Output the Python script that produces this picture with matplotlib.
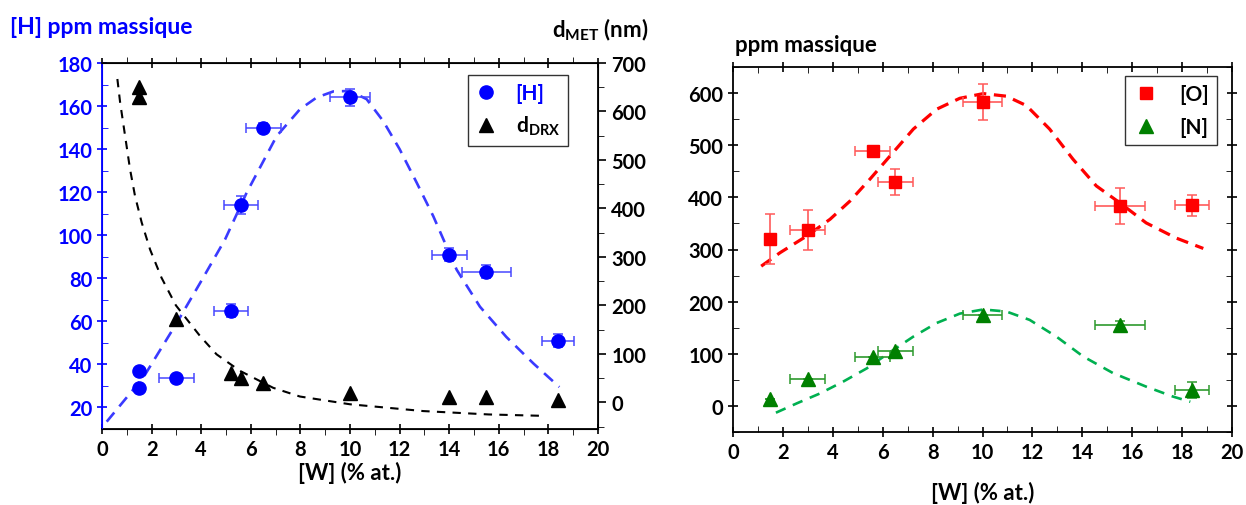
import matplotlib
matplotlib.use("Agg")
import matplotlib.pyplot as plt
from matplotlib.lines import Line2D
from matplotlib.ticker import MultipleLocator

plt.rcParams['font.family'] = ['Lato', 'DejaVu Sans']
plt.rcParams['font.weight'] = 'bold'
plt.rcParams['mathtext.fontset'] = 'custom'
plt.rcParams['mathtext.rm'] = 'Lato:bold'
plt.rcParams['mathtext.bf'] = 'Lato:bold'

# --- left chart data: [H] (left axis) and d_DRX (right axis) vs [W]
w_h = [1.5, 1.5, 3.0, 5.2, 5.6, 6.5, 10.0, 14.0, 15.5, 18.4]
h_ppm = [37, 29, 33.5, 65, 114, 150, 164, 91, 83, 51]
h_xerr = [0, 0, 0.7, 0.7, 0.7, 0.7, 0.8, 0.7, 1.0, 0.65]
h_yerr = [0, 0, 1, 3, 4, 2, 4, 3, 3, 3]

w_d = [1.5, 1.5, 3.0, 5.2, 5.6, 6.5, 10.0, 14.0, 15.5, 18.4]
d_drx = [650, 630, 172, 60, 50, 39, 19, 10, 10, 5]

# fitted curves
fit_h_x = [0.19, 1.68, 3.0, 3.95, 4.96, 5.83, 7.04, 7.98, 8.66, 9.33, 10.0, 10.67,
           11.34, 12.0, 12.69, 13.36, 14.3, 15.24, 16.3, 17.4, 18.44]
fit_h_y = [13.4, 34.2, 59, 77.7, 98, 119.7, 146, 158.5, 164, 166.8, 167, 163.2,
           153, 140, 124.4, 108.8, 84, 66.8, 52.8, 40.4, 29.5]
fit_d_x = [0.62, 0.73, 0.93, 1.13, 1.33, 1.6, 1.94, 2.4, 2.98, 3.95, 4.62, 5.56,
           6.9, 7.98, 10.0, 12.95, 15.6, 17.9]
fit_d_y = [667, 619, 550, 481, 426, 371, 315, 257, 200, 137, 99, 65,
           30, 12, -4, -18, -25, -28]

# --- right chart data: [O] and [N] vs [W]
w_on = [1.5, 3.0, 5.6, 6.5, 10.0, 15.5, 18.4]
o_ppm = [321, 338, 489, 429, 583, 383, 385]
o_xerr = [0, 0.7, 0.7, 0.7, 0.8, 1.0, 0.67]
o_yerr = [48, 38, 5, 25, 35, 35, 20]
n_ppm = [13, 51, 94, 106, 175, 155, 30]
n_xerr = [0, 0.7, 0.7, 0.7, 0.8, 1.0, 0.67]
n_yerr = [0, 0, 0, 0, 0, 8, 15]

fit_o_x = [1.13, 1.89, 2.96, 3.89, 4.69, 5.49, 6.36, 7.23, 8.16, 9.09, 10.03,
           10.96, 11.76, 12.69, 13.63, 14.56, 15.49, 16.56, 17.76, 18.85]
fit_o_y = [268, 294, 326, 358, 393, 435, 483, 531, 569, 590, 599,
           594, 576, 531, 473, 422, 390, 351, 322, 302]
fit_n_x = [1.72, 2.56, 3.49, 4.43, 5.36, 6.29, 7.23, 8.16, 9.09, 10.03,
           10.96, 11.89, 12.96, 14.03, 15.23, 16.56, 17.63, 18.33]
fit_n_y = [-13, 5, 24, 47, 72, 103, 133, 159, 177, 185,
           181, 165, 133, 95, 63, 37, 18, 8]

fs = 14.5
fig = plt.figure(figsize=(12.46, 5.06), dpi=100)

# ================= left chart
ax1 = fig.add_axes([102 / 1246, 1 - 430 / 506, 496 / 1246, 366 / 506])
ax2 = ax1.twinx()

ax1.plot(fit_h_x, fit_h_y, color='#3a3aff', lw=1.9, dashes=(4.5, 3), zorder=2)
ax2.plot(fit_d_x, fit_d_y, color='black', lw=1.5, dashes=(4, 3.5), zorder=2)
ax1.errorbar(w_h, h_ppm, xerr=h_xerr, yerr=h_yerr, fmt='o', color='#0000ff', ms=9.5,
             ecolor='#4848ff', elinewidth=1.1, capsize=3.5, capthick=1.1, zorder=3)
ax2.plot(w_d, d_drx, '^', color='black', ms=10.5, zorder=3)

ax1.set_xlim(0, 20)
ax1.set_ylim(10, 180)
ax2.set_ylim(-55, 700)
ax1.xaxis.set_major_locator(MultipleLocator(2))
ax1.xaxis.set_minor_locator(MultipleLocator(1))
ax1.yaxis.set_major_locator(MultipleLocator(20))
ax1.yaxis.set_minor_locator(MultipleLocator(10))
ax2.yaxis.set_major_locator(MultipleLocator(100))
ax2.yaxis.set_minor_locator(MultipleLocator(50))

ax1.spines['left'].set_color('#0000ff')
ax2.spines['left'].set_color('#0000ff')
ax1.tick_params(axis='y', colors='#0000ff', labelsize=fs, direction='inout', length=7, width=1.2)
ax1.tick_params(axis='y', which='minor', colors='#0000ff', direction='in', length=4)
ax1.tick_params(axis='x', labelsize=fs, direction='inout', length=7, top=True, width=1.2)
ax1.tick_params(axis='x', which='minor', direction='out', length=4, top=True)
ax2.tick_params(axis='y', labelsize=fs, direction='out', length=6, width=1.2)
ax2.tick_params(axis='y', which='minor', direction='out', length=4)
for sp in ax1.spines.values():
    sp.set_linewidth(1.3)

ax1.set_xlabel('[W] (% at.)', fontsize=16, fontweight='bold', va='center')
ax1.xaxis.set_label_coords(0.5, -43 / 366)
fig.text(10 / 1246, 1 - 27 / 506, '[H] ppm massique', color='#0000ff', fontsize=16.5,
         fontweight='bold', ha='left', va='center')
fig.text(648 / 1246, 1 - 30 / 506, r'd$_{\mathregular{MET}}$ (nm)', fontsize=16,
         fontweight='bold', ha='right', va='center')

leg1 = ax1.legend(handles=[Line2D([], [], ls='none', marker='o', color='#0000ff', ms=9.5),
                           Line2D([], [], ls='none', marker='^', color='black', ms=10.5)],
                  labels=['[H]', r'd$_{\mathregular{DRX}}$'], loc='upper right',
                  bbox_to_anchor=(0.94, 0.967), borderaxespad=0, fontsize=15,
                  frameon=True, fancybox=False, edgecolor='black', handlelength=1.0,
                  handletextpad=0.9, borderpad=0.4, labelspacing=0.5)
leg1.get_frame().set_linewidth(1.0)
leg1.get_texts()[0].set_color('#0000ff')

# ================= right chart
ax3 = fig.add_axes([733 / 1246, 1 - 433 / 506, 499 / 1246, 365 / 506])
ax3.plot(fit_o_x, fit_o_y, color='#ff0000', lw=2.3, dashes=(3.8, 2.4), zorder=2)
ax3.plot(fit_n_x, fit_n_y, color='#00b050', lw=1.9, dashes=(4, 3), zorder=2)
ax3.errorbar(w_on, o_ppm, xerr=o_xerr, yerr=o_yerr, fmt='s', color='#ff0000', ms=9,
             ecolor='#ff5a5a', elinewidth=1.2, capsize=3.5, capthick=1.1, zorder=3)
ax3.errorbar(w_on, n_ppm, xerr=n_xerr, yerr=n_yerr, fmt='^', color='#008000', ms=10.5,
             ecolor='#2e9a2e', elinewidth=1.2, capsize=3.5, capthick=1.1, zorder=3)

ax3.set_xlim(0, 20)
ax3.set_ylim(-50, 650)
ax3.xaxis.set_major_locator(MultipleLocator(2))
ax3.xaxis.set_minor_locator(MultipleLocator(1))
ax3.yaxis.set_major_locator(MultipleLocator(100))
ax3.yaxis.set_minor_locator(MultipleLocator(50))
ax3.tick_params(which='major', labelsize=fs, direction='inout', length=7, width=1.2,
                top=True, right=True)
ax3.tick_params(which='minor', direction='in', length=4, top=True, right=True)
for sp in ax3.spines.values():
    sp.set_linewidth(1.3)
ax3.set_xlabel('[W] (% at.)', fontsize=16, fontweight='bold', va='center')
ax3.xaxis.set_label_coords(0.5, -60 / 365)
fig.text(735 / 1246, 1 - 45 / 506, 'ppm massique', fontsize=16, fontweight='bold',
         ha='left', va='center')

leg3 = ax3.legend(handles=[Line2D([], [], ls='none', marker='s', color='#ff0000', ms=9),
                           Line2D([], [], ls='none', marker='^', color='#008000', ms=10.5)],
                  labels=['[O]', '[N]'], loc='upper right', bbox_to_anchor=(0.97, 0.975),
                  borderaxespad=0, fontsize=15, frameon=True, fancybox=False,
                  edgecolor='black', handlelength=1.2, handletextpad=1.0,
                  borderpad=0.4, labelspacing=0.6)
leg3.get_frame().set_linewidth(1.0)

fig.savefig('out.png', dpi=100)
